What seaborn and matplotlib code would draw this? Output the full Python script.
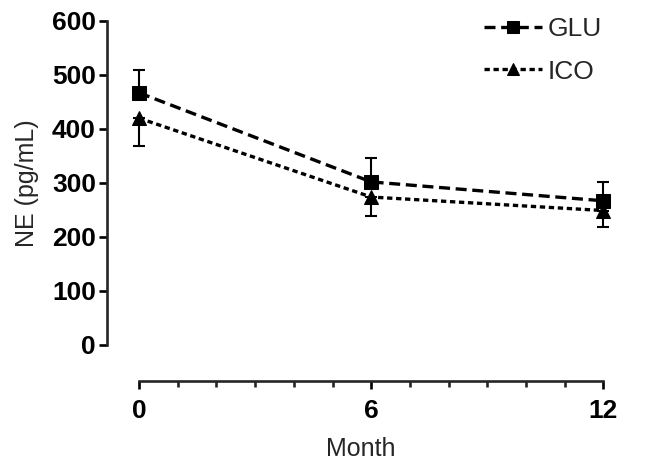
import pandas as pd
import numpy as np
import seaborn as sns
import matplotlib.pyplot as plt
from matplotlib.ticker import MultipleLocator

# данные
months = [0, 6, 12]
glu_mean = [467, 302, 267]
glu_err = [42, 45, 35]
ico_mean = [420, 274, 249]
ico_err = [51, 35, 30]

df = pd.DataFrame({
    "Month": months * 2,
    "NE": glu_mean + ico_mean,
    "Group": ["GLU"] * 3 + ["ICO"] * 3,
})

sns.set_style("ticks")
plt.rcParams["font.family"] = ["Liberation Sans", "DejaVu Sans"]

fig = plt.figure(figsize=(6.69, 4.66), dpi=100)
ax = fig.add_axes([107 / 669, 1 - 345 / 466, (615 - 107) / 669, (345 - 21) / 466])

sns.lineplot(data=df, x="Month", y="NE", hue="Group", style="Group",
             palette={"GLU": "black", "ICO": "black"},
             markers={"GLU": "s", "ICO": "^"},
             dashes={"GLU": (3.3, 1.7), "ICO": (1.6, 1.1)},
             markersize=10, linewidth=2.4, markeredgecolor="black", ax=ax)

# односторонние усы ошибок: GLU вверх, ICO вниз
ax.errorbar(months, glu_mean, yerr=[np.zeros(3), glu_err], fmt="none",
            ecolor="black", elinewidth=1.5, capsize=4.5, capthick=1.5)
ax.errorbar(months, ico_mean, yerr=[ico_err, np.zeros(3)], fmt="none",
            ecolor="black", elinewidth=1.5, capsize=4.5, capthick=1.5)

ax.set_xlim(-0.83, 12.3)
ax.set_ylim(0, 600)
ax.set_xticks([0, 6, 12])
ax.xaxis.set_minor_locator(MultipleLocator(1))
ax.set_yticks(range(0, 601, 100))

sns.despine(ax=ax)
ax.spines["bottom"].set_position(("outward", 26))
ax.spines["bottom"].set_bounds(0, 12)
ax.spines["left"].set_bounds(0, 600)
for s in ["left", "bottom"]:
    ax.spines[s].set_linewidth(1.9)

ax.tick_params(axis="both", which="major", length=6, width=1.9,
               labelsize=19, colors="black")
ax.tick_params(axis="x", which="minor", length=4, width=1.9)
ax.tick_params(axis="x", pad=7)
ax.tick_params(axis="y", pad=2)
for lab in ax.get_xticklabels() + ax.get_yticklabels():
    lab.set_fontweight("bold")

ax.set_xlabel("Month", fontsize=18, labelpad=10)
ax.set_ylabel("NE (pg/mL)", fontsize=18, labelpad=9)

leg = ax.legend(loc="upper right", bbox_to_anchor=(1.02, 1.085), frameon=False,
                fontsize=19, handlelength=2.2, handletextpad=0.2,
                labelspacing=0.7)
for h in leg.legend_handles:
    h.set_markersize(9)

fig.savefig("out.png", dpi=100)
